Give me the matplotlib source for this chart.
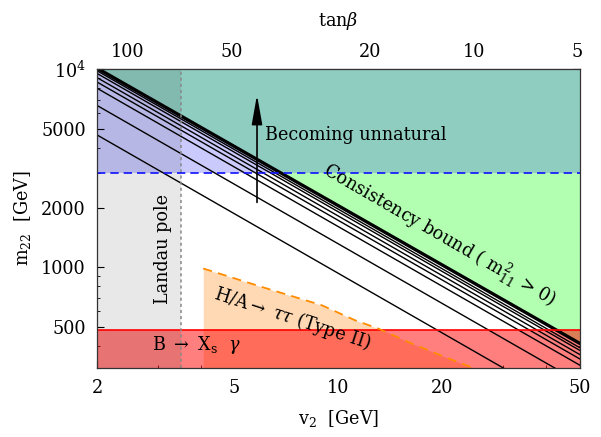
import matplotlib
matplotlib.use('Agg')
import matplotlib.pyplot as plt
import numpy as np
from matplotlib.ticker import FixedLocator, NullFormatter, FixedFormatter

plt.rcParams['font.family'] = 'DejaVu Serif'
plt.rcParams['mathtext.fontset'] = 'dejavuserif'
plt.rcParams['font.size'] = 12.7

# electroweak vev, used for the tan(beta) axis on top
V_EW = 246.0

# axis ranges (GeV)
v2_range = [2, 50]
m22_range = [310, 10000]

# bounds
natural_m22 = 3000      # "becoming unnatural" above this
bsg_m22 = 480           # B -> Xs gamma, below this
landau_v2 = 3.5         # Landau pole, left of this

# consistency bound (thick line), end points at v2 = 2 and v2 = 50
line_v2 = [2, 50]
thick_m22 = [10100, 412]
# thin contour lines, values at v2 = 2 and v2 = 50
thin_start = [9800, 9500, 9050, 8600, 8000, 6550, 4650]
thin_end = [392, 380, 362, 344, 320, 262, 186]

# H/A -> tau tau exclusion (type II)
htau_v2 = [4.06, 6.0, 8.94, 11.16, 13.04, 16.29, 20.34, 24.8]
htau_m22 = [985, 795, 643, 540, 490, 412, 352, 308]

# tick positions / labels
xticks = [2, 5, 10, 20, 50]
yticks = [500, 1000, 2000, 5000, 10000]
ytick_labels = ['500', '1000', '2000', '5000', r'$10^4$']
tb_ticks = [100, 50, 20, 10, 5]
tb_minor = [90, 80, 70, 60, 40, 30, 9, 8, 7, 6]

fig = plt.figure(figsize=(6.01, 4.37), dpi=100)
ax = fig.add_axes([0.1614, 0.1579, 0.8036, 0.6842])
ax.set_xscale('log')
ax.set_yscale('log')
ax.set_xlim(v2_range)
ax.set_ylim(m22_range)

ytop = m22_range[1]
ybot = m22_range[0]

# dense mesh along the straight (log-log) consistency line, for region fills
xs = np.geomspace(line_v2[0], line_v2[1], 600)
thick_ys = np.exp(np.interp(np.log(xs), np.log(line_v2), np.log(thick_m22)))

lavender = '#cacafd'
green = '#b2ffb2'
teal = '#8fcdc1'

ax.axhspan(natural_m22, ytop * 2, color=lavender, lw=0, zorder=1)
ax.fill_between(xs, thick_ys, natural_m22, where=thick_ys < natural_m22,
                color=green, lw=0, zorder=2)
ax.fill_between(xs, np.maximum(thick_ys, natural_m22), ytop * 2,
                color=teal, lw=0, zorder=2)

# H/A -> tau tau region
ax.fill_between(htau_v2, htau_m22, ybot * 0.9, color='#ffd9b3', lw=0, zorder=3)

# B -> Xs gamma
ax.axhspan(ybot * 0.9, bsg_m22, color='red', alpha=0.5, lw=0, zorder=4)
ax.axhline(bsg_m22, color='red', lw=1.2, zorder=7)

# Landau pole overlay
ax.axvspan(v2_range[0], landau_v2, color='k', alpha=0.09, lw=0, zorder=5)
ax.axvline(landau_v2, color='#888888', lw=1.1, ls=(0, (2, 2)), zorder=7)

# contour lines
for a, b in zip(thin_start, thin_end):
    ax.plot(line_v2, [a, b], color='k', lw=1.0, zorder=6)
ax.plot(line_v2, thick_m22, color='k', lw=2.4, zorder=6)

ax.plot(htau_v2, htau_m22, color='#ff8c00', lw=1.3, ls=(0, (5, 3.5)), zorder=7)
ax.axhline(natural_m22, color='#1010ff', lw=1.2, ls=(0, (5, 3)), zorder=7)

# arrow and labels
ax.annotate('', xy=(5.81, 7650), xytext=(5.81, 2056),
            arrowprops=dict(arrowstyle='-|>,head_length=0.9,head_width=0.16',
                            color='k', lw=1.2, mutation_scale=20), zorder=8)
ax.text(6.13, 4642, 'Becoming unnatural', ha='left', va='center', zorder=8)
ax.text(19.6, 1460, r'Consistency bound ( $\mathrm{m}_{11}^{2}$ > 0)',
        rotation=-30, rotation_mode='anchor', ha='center', va='center', zorder=8)
ax.text(3.105, 1240, 'Landau pole', rotation=90, rotation_mode='anchor',
        ha='center', va='center', zorder=8)
ax.text(7.33, 553, r'H/A$\rightarrow$ $\tau\tau$ (Type II)', rotation=-18,
        rotation_mode='anchor', ha='center', va='center', zorder=8)
ax.text(3.87, 404, r'B $\rightarrow$ $\mathrm{X_s}$  $\gamma$',
        ha='center', va='center', zorder=8)

# ticks
ax.xaxis.set_major_locator(FixedLocator(xticks))
ax.xaxis.set_major_formatter(FixedFormatter([str(t) for t in xticks]))
ax.xaxis.set_minor_formatter(NullFormatter())
ax.yaxis.set_major_locator(FixedLocator(yticks))
ax.yaxis.set_major_formatter(FixedFormatter(ytick_labels))
ax.yaxis.set_minor_formatter(NullFormatter())
ax.tick_params(which='both', direction='in', right=True, top=False)
ax.tick_params(which='major', length=5, width=0.8, pad=8)
ax.tick_params(which='minor', length=2.5, width=0.6)

ax.set_xlabel(r'$\mathrm{v}_2$  [GeV]', labelpad=8)
ax.set_ylabel(r'$\mathrm{m}_{22}$  [GeV]', labelpad=6)

top = ax.secondary_xaxis('top', functions=(lambda x: V_EW / x, lambda t: V_EW / t))
top.xaxis.set_major_locator(FixedLocator(tb_ticks))
top.xaxis.set_major_formatter(FixedFormatter([str(t) for t in tb_ticks]))
top.xaxis.set_minor_locator(FixedLocator(tb_minor))
top.xaxis.set_minor_formatter(NullFormatter())
top.tick_params(which='both', direction='in')
top.tick_params(which='major', length=5, width=0.8, pad=6)
top.tick_params(which='minor', length=2.5, width=0.6)
top.set_xlabel(r'tan$\beta$', labelpad=12)

for s in ax.spines.values():
    s.set_color('#333333')
    s.set_linewidth(0.9)
    s.set_zorder(9)

fig.savefig('out.png', dpi=100)
